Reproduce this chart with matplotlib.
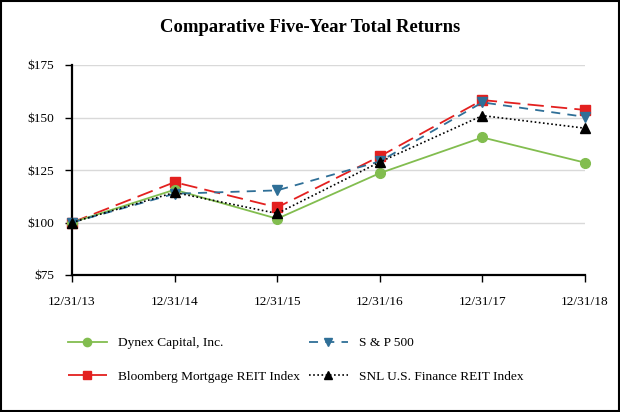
import matplotlib
matplotlib.use("Agg")
import matplotlib.pyplot as plt
from matplotlib.patches import Rectangle

years = ["12/31/13", "12/31/14", "12/31/15", "12/31/16", "12/31/17", "12/31/18"]
dynex = [100, 115.6, 101.8, 123.5, 140.5, 128.5]
sp500 = [100, 113.7, 115.3, 129.1, 157.2, 150.3]
bloomberg = [100, 119.2, 107.2, 131.5, 158.3, 153.6]
snl = [100, 114.3, 104.3, 128.8, 150.9, 144.9]
yticks = [75, 100, 125, 150, 175]
labels = ["Dynex Capital, Inc.", "S & P 500", "Bloomberg Mortgage REIT Index", "SNL U.S. Finance REIT Index"]

plt.rcParams['font.family'] = ['Liberation Serif', 'DejaVu Serif']

fig = plt.figure(figsize=(6.2, 4.12), dpi=100)
ax = fig.add_axes([72/620, 1-275/412, (585-72)/620, (275-65)/412])

x = list(range(len(years)))
green = '#82bd4f'
blue = '#2f6f97'
red = '#e3201f'

l1, = ax.plot(x, dynex, color=green, lw=1.3, marker='o', ms=7, clip_on=False, zorder=3)
l2, = ax.plot(x, sp500, color=blue, lw=1.3, ls=(0, (5, 4)), marker='v', ms=7, clip_on=False, zorder=4)
l3, = ax.plot(x, bloomberg, color=red, lw=1.3, ls=(0, (9, 4)), marker='s', ms=7, clip_on=False, zorder=2)
l4, = ax.plot(x, snl, color='black', lw=1.2, ls=(0, (1, 1.5)), marker='^', ms=6.5, clip_on=False, zorder=5)

ax.set_xlim(0, 5)
ax.set_ylim(75, 175)
ax.set_xticks(x)
ax.set_xticklabels(years, fontsize=9.6)
ax.set_yticks(yticks)
ax.set_yticklabels([f"${v}" for v in yticks], fontsize=9.6)
ax.grid(axis='y', color='#d9d9d9', lw=1)
ax.set_axisbelow(True)
for s in ['top', 'right']:
    ax.spines[s].set_visible(False)
for s in ['left', 'bottom']:
    ax.spines[s].set_linewidth(1.6)
    ax.spines[s].set_color('black')
ax.tick_params(axis='both', direction='out', length=5, width=1)
ax.tick_params(axis='y', pad=8)
ax.tick_params(axis='x', pad=10)

fig.text(0.5, 1-28/412, "Comparative Five-Year Total Returns", ha='center', va='center',
         fontsize=13.4, fontweight='bold')

common = dict(loc='upper left', frameon=False, fontsize=9.6, handlelength=2.9,
              handletextpad=0.85, labelspacing=1.6, markerscale=0.85, borderaxespad=0,
              borderpad=0)
leg1 = fig.legend([l1, l3], [labels[0], labels[2]], bbox_to_anchor=(68/620, 1-337/412), **common)
leg2 = fig.legend([l2, l4], [labels[1], labels[3]], bbox_to_anchor=(309/620, 1-337/412), **common)

fig.patches.append(Rectangle((0.002, 0.002), 0.996, 0.996, transform=fig.transFigure,
                             fill=False, edgecolor='black', lw=1.5))

fig.savefig("out.png", dpi=100)
